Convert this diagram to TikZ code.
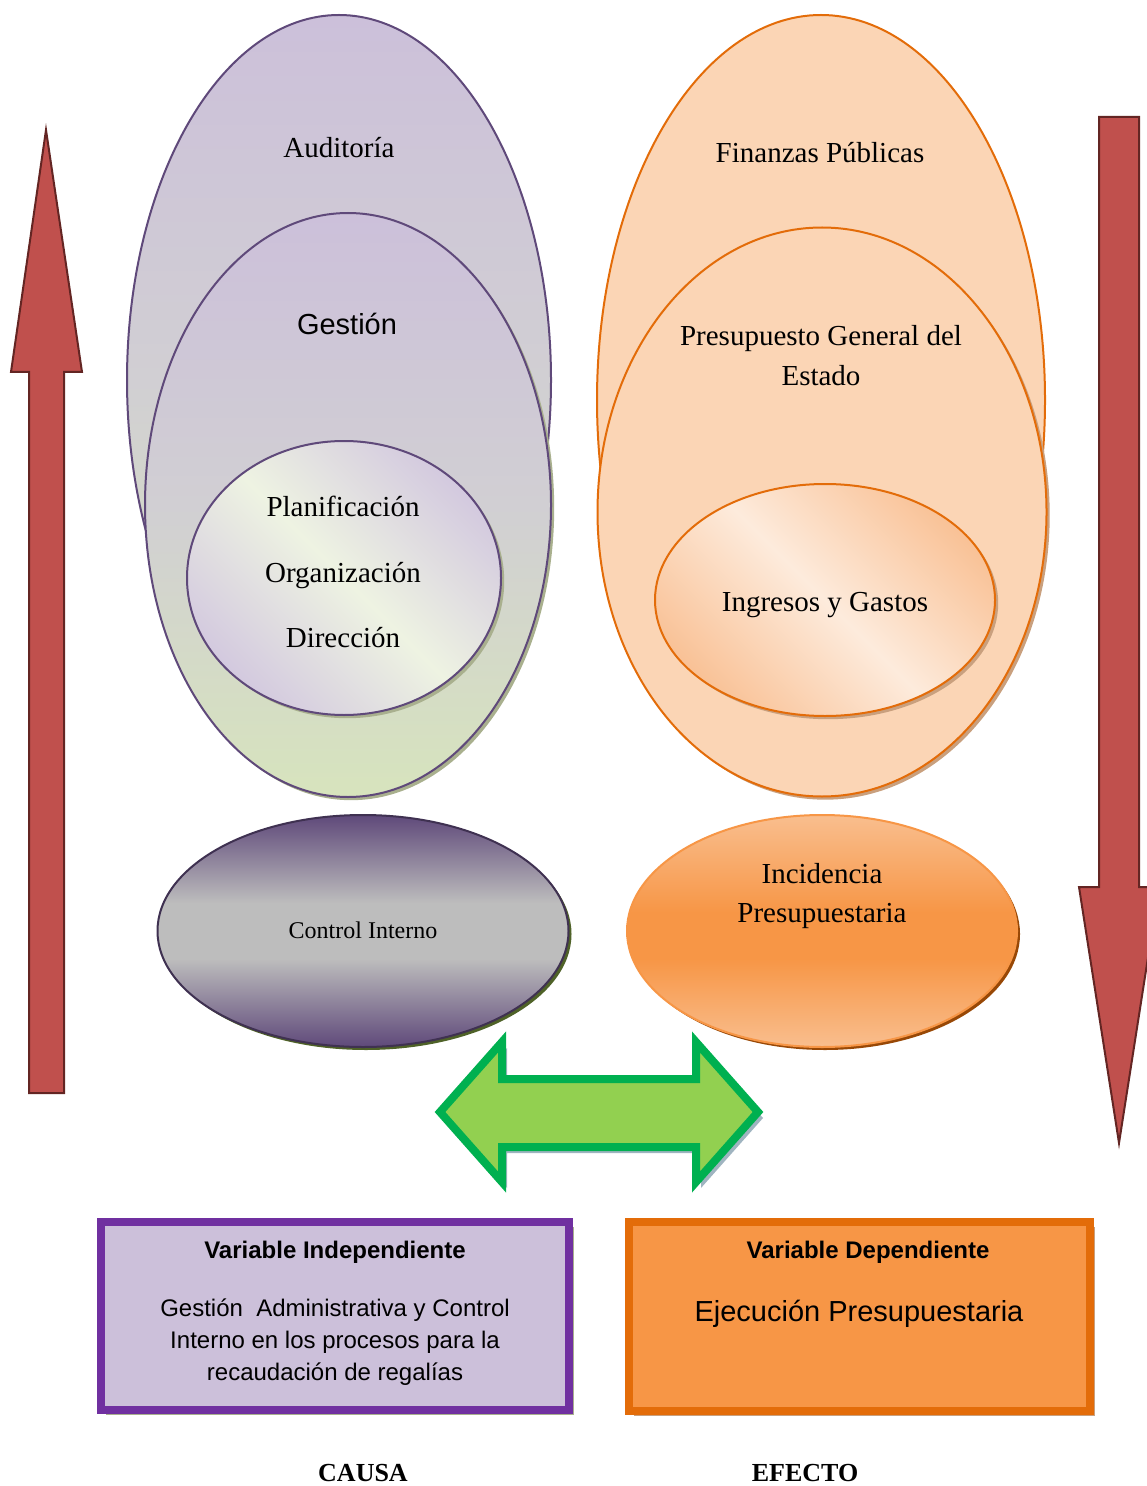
\documentclass[tikz,border=0pt]{standalone}
\usepackage{fontspec}
\setmainfont{Liberation Serif}
\setsansfont{Liberation Sans}
\usetikzlibrary{shapes.geometric,shadows}

\definecolor{lavfill}{HTML}{CCC0DA}
\definecolor{midgrey}{HTML}{D1CFD3}
\definecolor{lgreen}{HTML}{D7E4BD}
\definecolor{purpline}{HTML}{5F497A}
\definecolor{lavcorner}{HTML}{D3C9DF}
\definecolor{greenwhite}{HTML}{EEF3E2}
\definecolor{peach}{HTML}{FBD5B5}
\definecolor{peachdark}{HTML}{F9C297}
\definecolor{peachlight}{HTML}{FDEBDC}
\definecolor{orangeline}{HTML}{E36C09}
\definecolor{orangefill}{HTML}{F79646}
\definecolor{orangelight}{HTML}{F9BE8E}
\definecolor{cipurple}{HTML}{5F497A}
\definecolor{cigrey}{HTML}{BDBDBD}
\definecolor{ciline}{HTML}{3F3151}
\definecolor{redfill}{HTML}{C0504D}
\definecolor{redline}{HTML}{632523}
\definecolor{greenfill}{HTML}{92D050}
\definecolor{greenline}{HTML}{00B050}
\definecolor{boxpurple}{HTML}{7030A0}
\definecolor{oliveshadow}{HTML}{A9B08E}
\definecolor{brownshadow}{HTML}{C9A07E}
\definecolor{blueshadow}{HTML}{9FB4C0}
\definecolor{darkolive}{HTML}{4F6228}
\definecolor{darkbrown}{HTML}{984806}

% vertical shadings: purple-grey-purple and light-dark-light orange
\pgfdeclareverticalshading{ctrlshade}{100bp}{color(0bp)=(cipurple); color(25bp)=(cipurple); color(44bp)=(cigrey); color(56bp)=(cigrey); color(75bp)=(cipurple); color(100bp)=(cipurple)}
\pgfdeclareverticalshading{incshade}{100bp}{color(0bp)=(orangelight); color(25bp)=(orangelight); color(44bp)=(orangefill); color(54bp)=(orangefill); color(75bp)=(orangelight); color(100bp)=(orangelight)}

\tikzset{
  oval/.style={ellipse, inner sep=0pt, line width=1pt},
  hatchshadow/.style={drop shadow={shadow xshift=1.6pt, shadow yshift=-1.6pt, fill=#1, opacity=1}},
  serifbig/.style={font=\fontsize{14.5pt}{18pt}\selectfont, anchor=base, inner sep=0pt},
  sansbig/.style={font=\sffamily\fontsize{14.5pt}{18pt}\selectfont, anchor=base, inner sep=0pt},
  serifmid/.style={font=\fontsize{12pt}{15pt}\selectfont, anchor=base, inner sep=0pt},
  boxtxt/.style={font=\sffamily\fontsize{12pt}{16pt}\selectfont, anchor=base, inner sep=0pt},
  boxhead/.style={font=\sffamily\bfseries\fontsize{12pt}{16pt}\selectfont, anchor=base, inner sep=0pt},
  footlbl/.style={font=\bfseries\fontsize{13pt}{16pt}\selectfont, anchor=base, inner sep=0pt},
  bigarrow/.style={fill=redfill, draw=redline, line width=1pt, line join=miter},
  varbox/.style={line width=3.6pt, line join=miter}
}

\begin{document}
\begin{tikzpicture}[x=0.5pt, y=-0.5pt]
\useasboundingbox (0,0) rectangle (1146,1486);

% ---- vertical arrows ----
\draw[bigarrow] (46,130) -- (82,372) -- (64,372) -- (64,1093) -- (29,1093) -- (29,372) -- (11,372) -- cycle;
\draw[bigarrow] (1099,117) -- (1139,117) -- (1139,887) -- (1159,887) -- (1119,1143) -- (1079,887) -- (1099,887) -- cycle;

% ---- left group: nested ovals ----
\node[oval, draw=purpline, top color=lavfill, bottom color=lgreen, middle color=midgrey,
      minimum width=212pt, minimum height=365pt] (aud) at (339,380) {};
\node[oval, draw=purpline, top color=lavfill, bottom color=lgreen, middle color=midgrey,
      hatchshadow=oliveshadow, minimum width=203pt, minimum height=292pt] (ges) at (348,505) {};
\node[oval, draw=purpline, left color=lavcorner, right color=lavcorner, middle color=greenwhite,
      shading angle=-45, hatchshadow=oliveshadow, minimum width=157pt, minimum height=137pt] (plan) at (344,578) {};

\node[serifbig] (tAud) at (339,158) {Auditoría};
\node[sansbig] (tGes) at (347,335) {Gestión};
\node[serifbig] (tPla) at (343,516) {Planificación};
\node[serifbig] (tOrg) at (343,582) {Organización};
\node[serifbig] (tDir) at (343,647) {Dirección};

% ---- right group: nested ovals ----
\node[oval, draw=orangeline, fill=peach,
      minimum width=224pt, minimum height=385pt] (fin) at (821,400) {};
\node[oval, draw=orangeline, fill=peach, hatchshadow=brownshadow,
      minimum width=224.5pt, minimum height=284.5pt] (pge) at (822,512) {};
\node[oval, draw=orangeline, left color=peachdark, right color=peachdark, middle color=peachlight,
      shading angle=-45, hatchshadow=brownshadow, minimum width=170pt, minimum height=116pt] (ing) at (825,600) {};

\node[serifbig] (tFin) at (820,163) {Finanzas Públicas};
\node[serifbig] (tPge1) at (821,346) {Presupuesto General del};
\node[serifbig] (tPge2) at (821,386) {Estado};
\node[serifbig] (tIng) at (825,611) {Ingresos y Gastos};

% ---- lower ovals ----
\node[oval, draw=ciline, shade, shading=ctrlshade,
      drop shadow={shadow xshift=1.5pt, shadow yshift=-1.5pt, fill=darkolive, opacity=1},
      minimum width=205.5pt, minimum height=116pt] (ci) at (363,931) {};
\node[serifmid] (tCi) at (363,938) {Control Interno};

\node[oval, draw=orangefill, shade, shading=incshade,
      drop shadow={shadow xshift=1.5pt, shadow yshift=-1.5pt, fill=darkbrown, opacity=1},
      minimum width=195pt, minimum height=116pt] (inc) at (822,931) {};
\node[serifbig] (tInc1) at (822,883) {Incidencia};
\node[serifbig] (tInc2) at (822,922) {Presupuestaria};

% ---- double arrow ----
\draw[fill=greenfill, draw=greenline, line width=4pt, line join=miter,
      drop shadow={shadow xshift=2.5pt, shadow yshift=-3pt, fill=blueshadow, opacity=1}]
  (440,1112) -- (502,1042) -- (502,1079) -- (696,1079) -- (696,1042) -- (758,1112)
  -- (696,1182) -- (696,1147) -- (502,1147) -- (502,1182) -- cycle;

% ---- variable boxes ----
\draw[varbox, draw=boxpurple, fill=lavfill,
      drop shadow={shadow xshift=2.5pt, shadow yshift=-2.5pt, fill=oliveshadow, opacity=1}]
  (101,1222) rectangle (569,1410);
\node[boxhead] (vi) at (335,1258) {Variable Independiente};
\node[boxtxt] (vi1) at (335,1316) {Gestión\ \ Administrativa y Control};
\node[boxtxt] (vi2) at (335,1348) {Interno en los procesos para la};
\node[boxtxt] (vi3) at (335,1380) {recaudación de regalías};

\draw[varbox, draw=orangeline, fill=orangefill,
      drop shadow={shadow xshift=2.5pt, shadow yshift=-2.5pt, fill=brownshadow, opacity=1}]
  (629,1222) rectangle (1090,1411);
\node[boxhead] (vd) at (868,1258) {Variable Dependiente};
\node[sansbig] (vd1) at (859,1321) {Ejecución Presupuestaria};

% ---- captions ----
\node[footlbl] (causa) at (363,1481) {CAUSA};
\node[footlbl] (efecto) at (805,1481) {EFECTO};
\end{tikzpicture}
\end{document}
